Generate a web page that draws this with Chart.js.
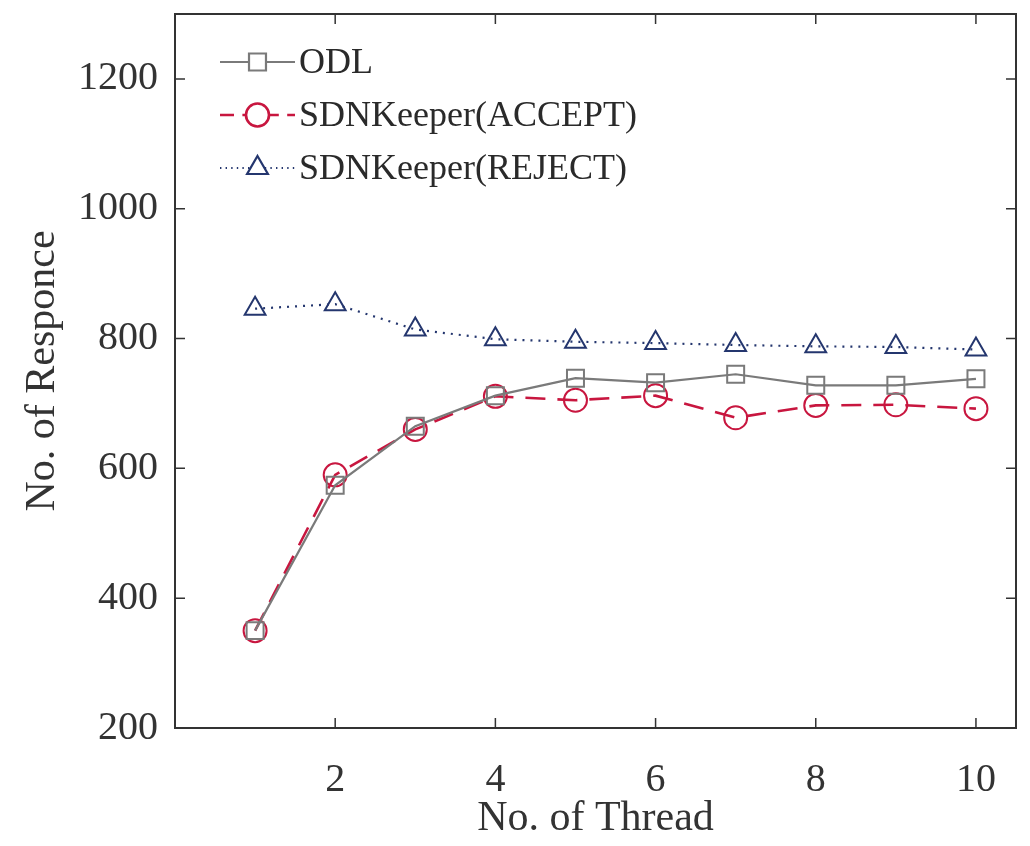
<!DOCTYPE html>
<html>
<head>
<meta charset="utf-8">
<script src="https://cdn.jsdelivr.net/npm/chart.js@4/dist/chart.umd.min.js"></script>
<style>
  html, body { margin: 0; padding: 0; background: #fff; }
  #wrap { width: 1030px; height: 846px; position: relative; }
</style>
</head>
<body>
<div id="wrap"><canvas id="c"></canvas></div>
<script>
// Data
const threads = [1, 2, 3, 4, 5, 6, 7, 8, 9, 10];
const odl = [350, 574, 665, 712, 739, 732, 745, 728, 728, 738];
const accept = [350, 590, 660, 711, 705, 712, 678, 697, 698, 692];
const reject = [846, 853, 814, 799, 795, 793, 790, 788, 787, 783];
const xTicks = [2, 4, 6, 8, 10];
const yTicks = [200, 400, 600, 800, 1000, 1200];

const serif = '"Liberation Serif", "Times New Roman", serif';
const pts = (ys) => threads.map((x, i) => ({ x, y: ys[i] }));

const series = [
    { label: 'ODL', data: odl, color: '#7a7a7a', marker: 'rect', radius: 12, dash: [], width: 2.2 },
    { label: 'SDNKeeper(ACCEPT)', data: accept, color: '#c8163f', marker: 'circle', radius: 11.5, dash: [20, 12], width: 2.6 },
    { label: 'SDNKeeper(REJECT)', data: reject, color: '#24366e', marker: 'triangle', radius: 12, dash: [2, 6], width: 2.2 }
];

// box around plot + inward ticks on all sides + legend inside
const frame = {
    id: 'frame',
    afterDraw(chart) {
        const { ctx, chartArea: a, scales } = chart;
        ctx.save();
        ctx.strokeStyle = '#333';
        ctx.lineWidth = 2;
        ctx.strokeRect(a.left, a.top, a.right - a.left, a.bottom - a.top);
        ctx.lineWidth = 1.5;
        const len = 10;
        ctx.beginPath();
        xTicks.forEach(v => {
            const px = scales.x.getPixelForValue(v);
            ctx.moveTo(px, a.bottom); ctx.lineTo(px, a.bottom - len);
            ctx.moveTo(px, a.top); ctx.lineTo(px, a.top + len);
        });
        yTicks.forEach(v => {
            const py = scales.y.getPixelForValue(v);
            ctx.moveTo(a.left, py); ctx.lineTo(a.left + len, py);
            ctx.moveTo(a.right, py); ctx.lineTo(a.right - len, py);
        });
        ctx.stroke();

        const x0 = a.left + 45, x1 = a.left + 120;
        let y = 62;
        ctx.font = '36px ' + serif;
        ctx.textBaseline = 'middle';
        series.forEach(s => {
            ctx.strokeStyle = s.color;
            ctx.lineWidth = s.width;
            ctx.setLineDash(s.dash.length ? s.dash.map(d => d * 0.7) : []);
            ctx.beginPath();
            ctx.moveTo(x0, y); ctx.lineTo(x1, y);
            ctx.stroke();
            ctx.setLineDash([]);
            ctx.fillStyle = '#fff';
            Chart.helpers.drawPoint(ctx, { pointStyle: s.marker, radius: s.radius, borderWidth: 2 }, (x0 + x1) / 2, y);
            ctx.fillStyle = '#2a2a2a';
            ctx.fillText(s.label, x1 + 4, y + 2);
            y += 53;
        });
        ctx.restore();
    }
};

new Chart(document.getElementById('c'), {
    type: 'line',
    data: {
        datasets: series.map(s => ({
            label: s.label,
            data: pts(s.data),
            borderColor: s.color,
            borderWidth: s.width,
            borderDash: s.dash,
            pointStyle: s.marker,
            pointRadius: s.radius,
            pointBorderWidth: 2,
            pointBorderColor: s.color,
            pointBackgroundColor: 'rgba(0,0,0,0)',
            fill: false,
            tension: 0
        }))
    },
    options: {
        responsive: true,
        maintainAspectRatio: false,
        animation: false,
        layout: { padding: { top: 8, right: 5, left: 0, bottom: 0 } },
        plugins: { legend: { display: false }, tooltip: { enabled: false } },
        scales: {
            x: {
                type: 'linear',
                min: 0,
                max: 10.5,
                afterBuildTicks: (s) => { s.ticks = xTicks.map(v => ({ value: v })); },
                afterFit: (s) => { s.height = 118; s.paddingLeft = 0; s.paddingRight = 0; },
                grid: { display: false, drawTicks: false, tickLength: 0 },
                border: { display: false },
                ticks: { color: '#333', font: { family: serif, size: 40 }, padding: 28, maxRotation: 0 },
                title: { display: true, text: 'No. of Thread', color: '#333', font: { family: serif, size: 42 }, padding: { top: 0, bottom: 2 } }
            },
            y: {
                min: 200,
                max: 1300,
                afterBuildTicks: (s) => { s.ticks = yTicks.map(v => ({ value: v })); },
                afterFit: (s) => { s.width = 175; s.paddingTop = 0; s.paddingBottom = 0; },
                grid: { display: false, drawTicks: false, tickLength: 0 },
                border: { display: false },
                ticks: { color: '#333', font: { family: serif, size: 40 }, padding: 17, callback: (v) => String(v) },
                title: { display: true, text: 'No. of Responce', color: '#333', font: { family: serif, size: 42 }, padding: { top: 18, bottom: 0 } }
            }
        }
    },
    plugins: [frame]
});
</script>
</body>
</html>
